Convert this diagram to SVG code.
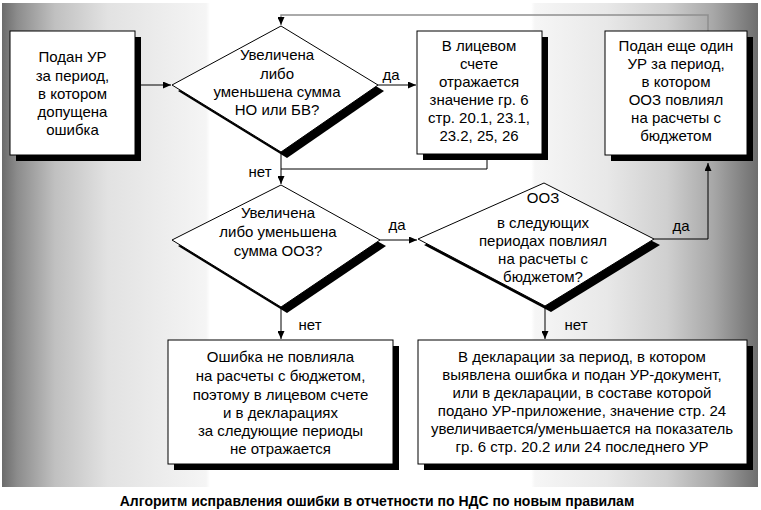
<svg xmlns="http://www.w3.org/2000/svg" width="761" height="510" viewBox="0 0 761 510">
<defs>
<linearGradient id="bg" gradientUnits="userSpaceOnUse" x1="2" y1="0" x2="758" y2="0">
<stop offset="0" stop-color="#6b6b6b"/>
<stop offset="0.02" stop-color="#8c8c8c"/>
<stop offset="0.07" stop-color="#c0c0c0"/>
<stop offset="0.14" stop-color="#e2e2e2"/>
<stop offset="0.27" stop-color="#f5f5f5"/>
<stop offset="0.275" stop-color="#ffffff"/>
<stop offset="0.70" stop-color="#ffffff"/>
<stop offset="0.705" stop-color="#f6f6f6"/>
<stop offset="0.8" stop-color="#e8e8e8"/>
<stop offset="0.88" stop-color="#cfcfcf"/>
<stop offset="0.94" stop-color="#a8a8a8"/>
<stop offset="1" stop-color="#6e6e6e"/>
</linearGradient>
<marker id="ah" markerUnits="userSpaceOnUse" markerWidth="9" markerHeight="7" refX="8" refY="3.5" orient="auto">
<path d="M0,0 L8,3.5 L0,7 z" fill="#000"/>
</marker>
</defs>
<style>
.box{fill:#fff;stroke:#000;stroke-width:1}
.sh{fill:#000}
.t{font-family:"Liberation Sans",Arial,sans-serif;font-size:15px;fill:#000;text-anchor:middle}
.lbl{font-family:"Liberation Sans",Arial,sans-serif;font-size:15px;fill:#000;text-anchor:middle}
.c{fill:none;stroke:#000;stroke-width:1}
.cg{fill:none;stroke:#8e8e8e;stroke-width:1.5}
.cap{font-family:"Liberation Sans",Arial,sans-serif;font-size:14px;font-weight:bold;fill:#000;text-anchor:middle}
</style>
<rect x="0" y="0" width="761" height="510" fill="#fff"/>
<rect x="2" y="3" width="756" height="484" fill="url(#bg)"/>

<g id="connectors">
<path class="cg" d="M708,31 V15 H281 V25" marker-end="url(#ah)"/>
<path class="c" d="M135,85 H171" marker-end="url(#ah)"/>
<path class="c" d="M378,85 H416" marker-end="url(#ah)"/>
<path class="c" d="M281,152 V184" marker-end="url(#ah)"/>
<path class="c" d="M487,160 V169 H281"/>
<path class="c" d="M380,240 H417" marker-end="url(#ah)"/>
<path class="c" d="M654,239 H708 V163" marker-end="url(#ah)"/>
<path class="c" d="M281,307 V339" marker-end="url(#ah)"/>
<path class="c" d="M545,306 V339" marker-end="url(#ah)"/>
<text class="lbl" x="391" y="80">да</text>
<text class="lbl" x="260" y="177">нет</text>
<text class="lbl" x="397" y="230">да</text>
<text class="lbl" x="681" y="231">да</text>
<text class="lbl" x="310" y="330">нет</text>
<text class="lbl" x="576" y="330">нет</text>
</g>

<g id="start">
<rect class="sh" x="16" y="37" width="125" height="124"/>
<rect class="box" x="10" y="31" width="125" height="124"/>
<text class="t"><tspan x="72.5" y="62">Подан УР</tspan><tspan x="72.5" y="80.5">за период,</tspan><tspan x="72.5" y="98.5">в котором</tspan><tspan x="72.5" y="117">допущена</tspan><tspan x="72.5" y="135">ошибка</tspan></text>
</g>

<g id="d1">
<polygon class="sh" points="287,32 384,91 287,158 178,91"/>
<polygon class="box" points="281,26 378,85 281,152 172,85"/>
<text class="t"><tspan x="277" y="60">Увеличена</tspan><tspan x="277" y="78.5">либо</tspan><tspan x="277" y="97">уменьшена сумма</tspan><tspan x="277" y="115">НО или БВ?</tspan></text>
</g>

<g id="box2">
<rect class="sh" x="423" y="37" width="125" height="123"/>
<rect class="box" x="417" y="31" width="125" height="123"/>
<text class="t"><tspan x="479" y="50.5">В лицевом</tspan><tspan x="479" y="69">счете</tspan><tspan x="479" y="87">отражается</tspan><tspan x="479" y="105">значение гр. 6</tspan><tspan x="479" y="123">стр. 20.1, 23.1,</tspan><tspan x="479" y="141">23.2, 25, 26</tspan></text>
</g>

<g id="box4">
<rect class="sh" x="611" y="37" width="142" height="124"/>
<rect class="box" x="605" y="31" width="142" height="124"/>
<text class="t"><tspan x="676" y="50.5">Подан еще один</tspan><tspan x="676" y="69">УР за период,</tspan><tspan x="676" y="87">в котором</tspan><tspan x="676" y="105">ООЗ повлиял</tspan><tspan x="676" y="123">на расчеты с</tspan><tspan x="676" y="141">бюджетом</tspan></text>
</g>

<g id="d2">
<polygon class="sh" points="287,191 386,246 287,313 178,246"/>
<polygon class="box" points="281,185 380,240 281,307 172,240"/>
<text class="t"><tspan x="278" y="218">Увеличена</tspan><tspan x="278" y="237">либо уменьшена</tspan><tspan x="278" y="255.5">сумма ООЗ?</tspan></text>
</g>

<g id="d3">
<polygon class="sh" points="550,189 660,245 551,312 424,245"/>
<polygon class="box" points="544,183 654,239 545,306 418,239"/>
<text class="t"><tspan x="543" y="203">ООЗ</tspan><tspan x="543" y="227.5">в следующих</tspan><tspan x="543" y="245.5">периодах повлиял</tspan><tspan x="543" y="264">на расчеты с</tspan><tspan x="543" y="281.5">бюджетом?</tspan></text>
</g>

<g id="box5">
<rect class="sh" x="174" y="346" width="225" height="124"/>
<rect class="box" x="168" y="340" width="225" height="124"/>
<text class="t"><tspan x="280.5" y="362">Ошибка не повлияла</tspan><tspan x="280.5" y="381">на расчеты с бюджетом,</tspan><tspan x="280.5" y="399.5">поэтому в лицевом счете</tspan><tspan x="280.5" y="417.5">и в декларациях</tspan><tspan x="280.5" y="435.5">за следующие периоды</tspan><tspan x="280.5" y="454">не отражается</tspan></text>
</g>

<g id="box6">
<rect class="sh" x="424" y="346" width="329" height="124"/>
<rect class="box" x="418" y="340" width="329" height="124"/>
<text class="t"><tspan x="582" y="361.5">В декларации за период, в котором</tspan><tspan x="582" y="379.5">выявлена ошибка и подан УР-документ,</tspan><tspan x="582" y="397.5">или в декларации, в составе которой</tspan><tspan x="582" y="415.5">подано УР-приложение, значение стр. 24</tspan><tspan x="582" y="433.5">увеличивается/уменьшается на показатель</tspan><tspan x="582" y="451.5">гр. 6 стр. 20.2 или 24 последнего УР</tspan></text>
</g>

<text class="cap" x="377" y="506">Алгоритм исправления ошибки в отчетности по НДС по новым правилам</text>
</svg>
